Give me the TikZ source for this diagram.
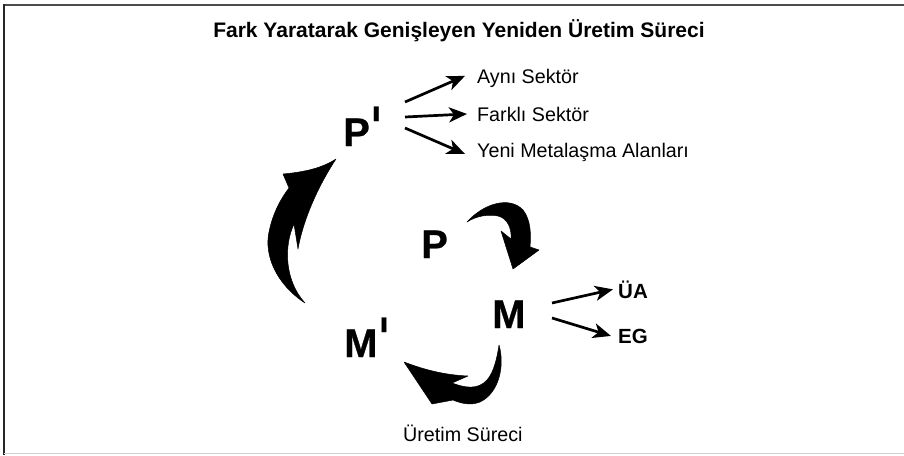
\documentclass[tikz,border=0pt]{standalone}
\usepackage{graphicx}
\usepackage{fontspec}
\setmainfont{Liberation Sans}
\newfontfamily\heavyfont[FakeBold=0.6]{Liberation Sans Bold}
\usetikzlibrary{arrows.meta}
\begin{document}
\begin{tikzpicture}[x=1pt,y=-1pt,
  big/.style={font=\fontsize{40}{40}\heavyfont, inner sep=0pt, anchor=base west},
  lbl/.style={font=\fontsize{19.7}{22}\selectfont, inner sep=0pt, anchor=base west},
  blbl/.style={font=\fontsize{20.5}{22}\selectfont\bfseries, inner sep=0pt, anchor=base west},
  thinarrow/.style={line width=2.7pt, -{Stealth[length=18pt,width=15pt,inset=5pt]}},
  fatarrow/.style={fill=black, draw=black, line width=0.5pt, line join=round}]
\useasboundingbox (0,0) rectangle (904,455);
\fill[white] (0,0) rectangle (904,455);
\draw[line width=2pt, black!70] (3,5) -- (904,5);
\draw[line width=2pt, black!85] (4,4) -- (4,455);
\draw[line width=1pt, black!18] (4,453.5) -- (904,453.5);

\node[font=\fontsize{21}{24}\selectfont\bfseries, inner sep=0pt] (title) at (459,31) {Fark Yaratarak Genişleyen Yeniden Üretim Süreci};

\newcommand{\primemark}{\hspace{2pt}\raisebox{25pt}{\fontsize{21}{21}\selectfont\scalebox{1.5}[1]{I}}}
\node[big] (Pp) at (343,146) {P\primemark};
\node[big] (Mp) at (344,357) {M\primemark};
\node[big] (M) at (492,328) {M};
\node[big] (P) at (421,258) {P};

\node[lbl] (a1) at (477,83) {Aynı Sektör};
\node[lbl] (a2) at (477,121) {Farklı Sektör};
\node[lbl] (a3) at (477,157) {Yeni Metalaşma Alanları};
\node[blbl] (ua) at (618,298) {ÜA};
\node[blbl] (eg) at (618,343) {EG};
\node[lbl] (ur) at (403,441) {Üretim Süreci};

\coordinate (s1) at (405,102);
\coordinate (s2) at (405,117);
\coordinate (s3) at (405,128);
\coordinate (m1) at (552,303);
\coordinate (m2) at (552,318);
\draw[thinarrow] (s1) -- ([shift={(-12,-2)}]a1.west);
\draw[thinarrow] (s2) -- ([shift={(-10,0)}]a2.west);
\draw[thinarrow] (s3) -- ([shift={(-12,2)}]a3.west);
\draw[thinarrow] (m1) -- ([shift={(-5,0)}]ua.west);
\draw[thinarrow] (m2) -- ([shift={(-7,0)}]eg.west);

% left fat arrow (M' -> P')
\path[fatarrow] (305,303)
  .. controls (276,284) and (264,255) .. (269,232)
  .. controls (273,212) and (282,197) .. (289,188)
  -- (283,174)
  .. controls (305,172) and (322,168) .. (336,159)
  .. controls (322,180) and (304,215) .. (298,249)
  -- (294,224)
  .. controls (284,245) and (284,280) .. (305,303) -- cycle;

% P -> M fat arrow
\path[fatarrow] (467,222)
  .. controls (484,203) and (510,196) .. (523,210)
  .. controls (531,220) and (531,235) .. (530,247)
  -- (539,250) -- (513,269) -- (501,231) -- (511,239)
  .. controls (512,228) and (507,218) .. (498,216)
  .. controls (488,214) and (476,216) .. (467,222) -- cycle;

% M -> M' fat arrow
\path[fatarrow] (499,345)
  .. controls (505,366) and (499,393) .. (480,402)
  .. controls (470,406) and (460,403) .. (453,400)
  -- (432,404) -- (404,362)
  .. controls (425,370) and (445,375) .. (468,376)
  -- (452,383)
  .. controls (465,388) and (478,390) .. (487,380)
  .. controls (494,372) and (497,358) .. (499,345) -- cycle;
\end{tikzpicture}
\end{document}
